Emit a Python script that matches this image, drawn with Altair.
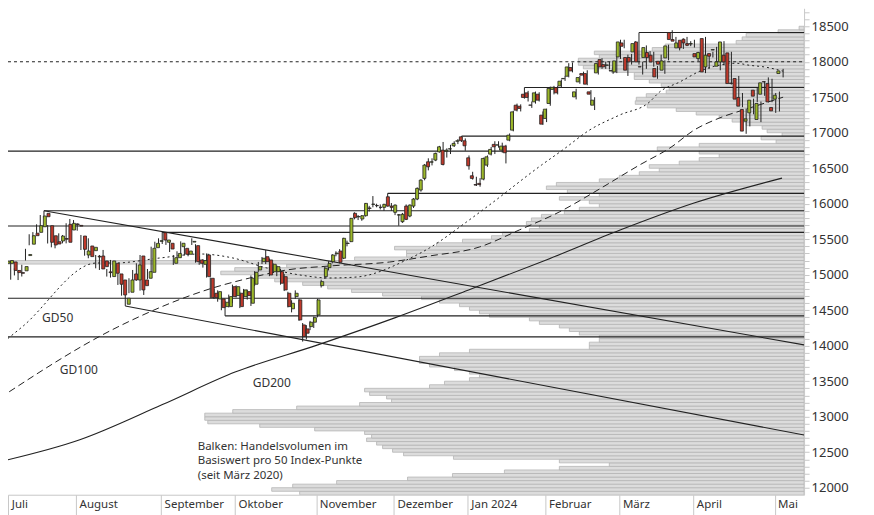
import altair as alt
import pandas as pd

# ---------------- candle data (trading-day index 0 = 3 Jul 2023) ----------------
open_ = [15160,15160,15180,15060,15030,15055,15270,15430,15585,15597,
         15676,15865,15690,15549,15465,15475,15510,15710,15630,15715,
         15695,15545,15278,15405,15339,15260,15264,15194,15040,14974,
         15161,15011,14926,14584,14753,15011,14926,15264,14926,14950,
         15034,15381,15470,15592,15457,15443,15161,15240,15395,15372,
         15288,15460,15410,15208,15147,15278,14950,14739,14659,14659,
         14551,14551,14832,14706,14739,14692,14762,14598,14866,15067,
         15184,15254,15208,15043,15043,15043,14973,14739,14520,14692,
         14645,14293,14237,14269,14331,14434,14846,14973,15100,15184,
         15295,15334,15232,15440,15466,15865,15815,15785,15831,15940,
         15990,15975,15950,15949,16098,15967,15879,15840,15747,15967,
         15827,15967,16066,16193,16357,16591,16585,16615,16731,16755,
         16740,16770,16816,16880,16943,16887,16647,16394,16270,16287,
         16347,16544,16699,16836,16826,16755,16812,16896,17037,17388,
         17374,17543,17562,17390,17435,17543,17248,17201,17412,17610,
         17637,17660,17760,17796,17919,17505,17716,17834,17834,17576,
         17388,17843,18031,17960,17950,17875,17857,18068,18265,18060,
         18060,18138,18279,17930,18059,18130,18092,17905,18007,17881,
         18054,18411,18313,18195,18303,18317,18256,18250,18115,18045,
         18327,17927,18115,18165,17937,17998,18092,18125,17700,17764,
         17497,17328,17163,17280,17600,17187,17543,17720,17693,17356,
         17473,17834]
high = [15230,15250,15190,15090,15060,15140,15365,15570,15600,15710,
        15841,15901,15700,15583,15503,15583,15560,15725,15785,15770,
        15724,15560,15372,15513,15395,15278,15278,15349,15081,15208,
        15185,15020,14940,14715,14950,15067,15161,15278,14997,15081,
        15395,15465,15513,15607,15530,15470,15278,15330,15470,15400,
        15360,15513,15430,15260,15220,15300,14960,14800,14780,14680,
        14630,14720,14860,14850,14760,14800,14790,14990,15050,15180,
        15250,15348,15230,15160,15130,15080,15010,14760,14640,14780,
        14660,14320,14290,14350,14410,14660,14930,15110,15190,15290,
        15330,15360,15520,15480,15800,15880,15840,15840,16010,15970,
        16108,16000,15990,16000,16146,16010,15990,15855,15870,15990,
        15990,16080,16230,16345,16560,16640,16640,16720,16815,16870,
        16780,16830,16880,16910,16952,16920,16680,16450,16380,16360,
        16650,16680,16800,16880,16880,16860,16830,16990,17310,17410,
        17400,17637,17590,17440,17580,17570,17300,17340,17650,17660,
        17660,17750,17800,17980,17990,17620,17800,17860,17880,17600,
        17500,17990,18050,18000,18000,17930,18080,18310,18310,18100,
        18110,18290,18411,18000,18230,18150,18140,17940,18100,18020,
        18240,18444,18350,18290,18330,18350,18290,18310,18140,18180,
        18350,18110,18140,18210,18030,18290,18120,18140,17760,17800,
        17560,17340,17290,17480,17630,17440,17720,17780,17760,17560,
        17580,17900]
low = [15120,15120,14930,14990,14925,14975,15200,15415,15535,15583,
       15667,15800,15440,15386,15372,15465,15442,15442,15616,15662,
       15620,15348,15268,15232,15325,15090,15067,15081,14974,14960,
       15006,14856,14705,14560,14740,14903,14915,14776,14715,14935,
       15020,15372,15442,15433,15420,15320,15138,15210,15240,15270,
       15260,15419,15170,15140,15100,14960,14670,14660,14620,14500,
       14420,14540,14600,14680,14530,14660,14650,14560,14840,15040,
       15150,15150,14980,15030,14980,14860,14770,14540,14470,14660,
       14350,14058,14090,14220,14250,14400,14820,14940,15060,15160,
       15260,15160,15220,15400,15460,15780,15770,15760,15820,15890,
       15950,15950,15920,15900,15960,15900,15840,15690,15730,15770,
       15810,15940,16050,16170,16330,16470,16540,16600,16720,16540,
       16650,16700,16800,16840,16870,16746,16480,16340,16250,16240,
       16330,16520,16680,16700,16790,16720,16568,16880,17020,17300,
       17300,17480,17440,17350,17410,17440,17110,17150,17380,17540,
       17540,17640,17730,17780,17850,17470,17690,17790,17670,17388,
       17320,17820,17900,17900,17890,17830,17840,18040,18190,17800,
       17960,18110,17960,17820,17900,18040,17930,17760,17950,17830,
       18020,18300,18260,18160,18180,18220,18220,18200,18010,18020,
       17840,17900,18060,18000,17880,17950,17950,17680,17620,17460,
       17360,16985,17090,17260,17430,17150,17520,17650,17430,17280,
       17300,17780]
close = [15190,15200,15060,15030,15020,15115,15285,15550,15550,15690,
         15827,15817,15457,15419,15433,15545,15500,15457,15724,15705,
         15685,15358,15334,15255,15386,15250,15081,15114,15030,15194,
         15020,14866,14715,14669,14926,14926,15138,14786,14846,15043,
         15372,15442,15480,15489,15489,15362,15240,15300,15443,15288,
         15334,15470,15184,15161,15200,14973,14678,14678,14762,14537,
         14612,14692,14692,14832,14551,14786,14706,14950,15034,15114,
         15232,15184,14997,15147,15114,14880,14786,14551,14598,14739,
         14363,14128,14176,14331,14396,14645,14903,15091,15160,15278,
         15305,15175,15513,15445,15794,15803,15820,15831,16005,15935,
         15996,15972,15949,15991,15967,15949,15981,15845,15851,15780,
         15981,16066,16216,16333,16544,16520,16591,16709,16802,16553,
         16755,16775,16850,16887,16887,16816,16534,16357,16263,16270,
         16638,16661,16765,16802,16830,16812,16718,16966,17294,17318,
         17342,17497,17497,17388,17562,17459,17121,17332,17623,17640,
         17562,17726,17765,17927,17871,17576,17778,17811,17684,17543,
         17459,17975,17927,17927,17955,17871,18012,18279,18218,17881,
         17998,18256,17998,17927,18200,18059,17998,17787,17965,18012,
         18223,18313,18290,18265,18195,18265,18232,18256,18068,18130,
         17857,18092,18078,18172,17998,18279,17998,17693,17693,17473,
         17374,17023,17196,17459,17515,17412,17703,17716,17435,17308,
         17529,17871]

# ---------------- x axis months ----------------
month_names = ["Juli", "August", "September", "Oktober", "November", "Dezember",
               "Jan 2024", "Februar", "März", "April", "Mai"]
month_ticks = [1.35, 19.7, 42.7, 62.7, 84.7, 105.7, 125.7, 146.7, 166.7, 186.7, 208.7]

# ---------------- volume profile (50-point buckets from 11900) ----------------
vol_lo = list(range(11900, 18500, 50))
vol = [505,533,512,468,397,352,300,245,195,245,
       351,401,412,422,428,438,433,440,490,545,
       597,600,600,572,508,445,413,418,435,440,
       375,360,335,325,335,350,375,385,385,365,
       335,215,215,205,205,225,235,245,265,275,
       315,325,335,345,365,383,422,453,477,502,
       530,550,584,570,518,815,450,398,398,410,
       368,342,313,302,275,265,278,273,263,240,
       225,205,215,245,205,237,258,248,205,185,
       165,145,155,125,105,85,105,147,105,28,
       43,22,37,42,58,72,85,108,128,157,
       169,168,158,138,135,143,155,170,170,193,
       221,226,226,205,210,152,139,68,62,58,
       26,5]

# ---------------- horizontal support / resistance lines ----------------
X_MIN, X_MAX = 1.27, 216.67
h_level = [18411, 17637, 16952, 16741, 16146, 15901, 15686, 15597, 14669, 14420, 14124]
h_start = [172, 141, 124, X_MIN, 104, 11, X_MIN, 43, X_MIN, 60, X_MIN]

# trend lines (start idx, start value, end idx, end value)
tr_x0 = [11, 33]
tr_y0 = [15901, 14560]
tr_x1 = [216.67, 216.67]
tr_y1 = [14012, 12743]

# ---------------- moving averages ----------------
gd50_i = [-0.9, 5.1, 25.3, 30.2, 42.4, 53.2, 62.1, 71.3, 80.2, 88.3, 95.6, 109.1, 115.3,
          125.3, 131.5, 145.6, 151.3, 158.6, 166.7, 174.8, 177.5, 182.9, 189.1, 193.7,
          198.3, 201.8, 206.4, 211]
gd50_v = [14012, 14265, 15165, 15165, 15236, 15292, 15236, 15095, 14997, 14954, 14968, 15208,
          15377, 15742, 15981, 16544, 16755, 17037, 17248, 17431, 17571, 17712, 17881, 17951,
          17979, 17951, 17923, 17867]
gd100_i = [-0.9, 31.0, 56.7, 66.7, 76.7, 88.3, 104.5, 115.3, 128.8, 139.6, 150.4, 161.3,
           172.1, 180.7, 186.9, 193.7, 201.8, 211]
gd100_v = [13266, 14265, 14814, 14954, 15067, 15123, 15179, 15264, 15390, 15630, 15883, 16207,
           16544, 16797, 17037, 17206, 17346, 17501]
gd200_i = [-0.9, 20.7, 42.9, 62.9, 85.1, 105.9, 125.9, 146.9, 166.9, 186.9, 210.7]
gd200_v = [12366, 12675, 13167, 13632, 14012, 14392, 14786, 15208, 15630, 16010, 16361]

y_ticks = list(range(11900, 18800, 100))

FONT = "Noto Sans"
GREEN = "#9cb82a"
RED = "#c0392b"
INK = "#222222"

yscale = alt.Scale(domain=[11901, 18753], nice=False, zero=False)
xscale = alt.Scale(domain=[X_MIN, X_MAX], nice=False, zero=False)

candles = pd.DataFrame({"i": list(range(len(close))), "o": open_, "h": high, "l": low, "c": close})
vdf = pd.DataFrame({"lo": vol_lo, "vol": vol})
hdf = pd.DataFrame({"v": h_level, "x0": h_start, "x1": [X_MAX] * len(h_level)})
tdf = pd.DataFrame({"x0": tr_x0, "y0": tr_y0, "x1": tr_x1, "y1": tr_y1})
ma50 = pd.DataFrame({"i": gd50_i, "v": gd50_v})
ma100 = pd.DataFrame({"i": gd100_i, "v": gd100_v})
ma200 = pd.DataFrame({"i": gd200_i, "v": gd200_v})

Y_AXIS = alt.Axis(orient="right", values=y_ticks, title=None, grid=False,
                  labelExpr="datum.value % 500 == 0 ? format(datum.value, 'd') : ''",
                  tickSize=5, tickColor="#c8c8c8", domainColor="#c8c8c8",
                  labelFontSize=13, labelColor="#333333", labelPadding=2, labelFont=FONT,
                  labelOverlap=False)


def X(field):
    return alt.X(field, type="quantitative", scale=xscale, axis=None)


def Y(field):
    return alt.Y(field, type="quantitative", scale=yscale, axis=Y_AXIS)


def XD(v):
    return alt.X(datum=v, type="quantitative", scale=xscale, axis=None)


def YD(v):
    return alt.Y(datum=v, type="quantitative", scale=yscale, axis=Y_AXIS)


label_expr = "[" + ",".join("'%s'" % m for m in month_names) + "][indexof([" + \
    ",".join(str(t) for t in month_ticks) + "], datum.value)]"
X_AXIS = alt.Axis(values=month_ticks, labelExpr=label_expr, title=None, grid=False,
                  tickSize=20, tickColor="#c8c8c8", domainColor="#c8c8c8",
                  labelAlign="left", labelBaseline="top", labelPadding=-16, labelOffset=3,
                  labelFontSize=11.5, labelColor="#333333", labelFont=FONT,
                  labelOverlap=False, labelFlush=False)

volume = alt.Chart(vdf).transform_calculate(hi="datum.lo + 50").mark_rect(
    fill="#dcdcdc", stroke="#b5b5b5", strokeWidth=0.8, clip=True
).encode(
    x=alt.X("vol:Q", scale=alt.Scale(domain=[0, 797], reverse=True, nice=False, zero=False), axis=None),
    x2=alt.datum(0),
    y=Y("lo"),
    y2="hi:Q",
)

hlines = alt.Chart(hdf).mark_rule(color=INK, strokeWidth=1.1).encode(
    x=X("x0"), x2="x1:Q", y=Y("v"))

dotted = alt.Chart(pd.DataFrame({"v": [18000]})).mark_rule(
    color=INK, strokeWidth=1, strokeDash=[3, 3]).encode(
    x=XD(X_MIN), x2=alt.datum(X_MAX), y=Y("v"))

trends = alt.Chart(tdf).mark_rule(color=INK, strokeWidth=1.1, clip=True).encode(
    x=X("x0"), x2="x1:Q", y=Y("y0"), y2="y1:Q")

l50 = alt.Chart(ma50).mark_line(color=INK, strokeWidth=1, strokeDash=[2, 3], interpolate="monotone",
                                clip=True).encode(x=X("i"), y=Y("v"))
l100 = alt.Chart(ma100).mark_line(color=INK, strokeWidth=1, strokeDash=[7, 4], interpolate="monotone",
                                  clip=True).encode(x=X("i"), y=Y("v"))
l200 = alt.Chart(ma200).mark_line(color=INK, strokeWidth=1.1, interpolate="monotone",
                                  clip=True).encode(x=X("i"), y=Y("v"))


def label(txt, xi, yv, size=12):
    return alt.Chart().mark_text(text=txt, align="left", baseline="middle", fontSize=size,
                                 font=FONT, color="#333333").encode(x=XD(xi), y=YD(yv))


t50 = label("GD50", 10.5, 14392)
t100 = label("GD100", 15.3, 13660)
t200 = label("GD200", 67.5, 13477)
note = alt.Chart().mark_text(
    text=["Balken: Handelsvolumen im", "Basiswert pro 50 Index-Punkte", "(seit März 2020)"],
    align="left", baseline="top", fontSize=11.5, lineHeight=14.5, font=FONT, color="#333333"
).encode(x=XD(52.6), y=YD(12661))

wicks = alt.Chart(candles).mark_rule(color=INK, strokeWidth=1).encode(
    x=alt.X("i:Q", scale=xscale, axis=X_AXIS),
    y=Y("l"), y2="h:Q")

bodies = alt.Chart(candles).mark_bar(width=3, stroke=INK, strokeWidth=0.8).encode(
    x=X("i"), y=Y("o"), y2="c:Q",
    fill=alt.condition("datum.c >= datum.o", alt.value(GREEN), alt.value(RED)))

chart = alt.layer(volume, hlines, dotted, trends, l50, l100, l200, t50, t100, t200, note,
                  wicks, bodies).resolve_scale(x="independent").properties(
    width=797, height=487, background="white",
    autosize=alt.AutoSizeParams(type="none"),
    padding={"left": 0, "top": 0, "right": 62, "bottom": 22},
).configure_view(stroke=None)

chart.save("out.html", embed_options={"renderer": "svg", "actions": False})
